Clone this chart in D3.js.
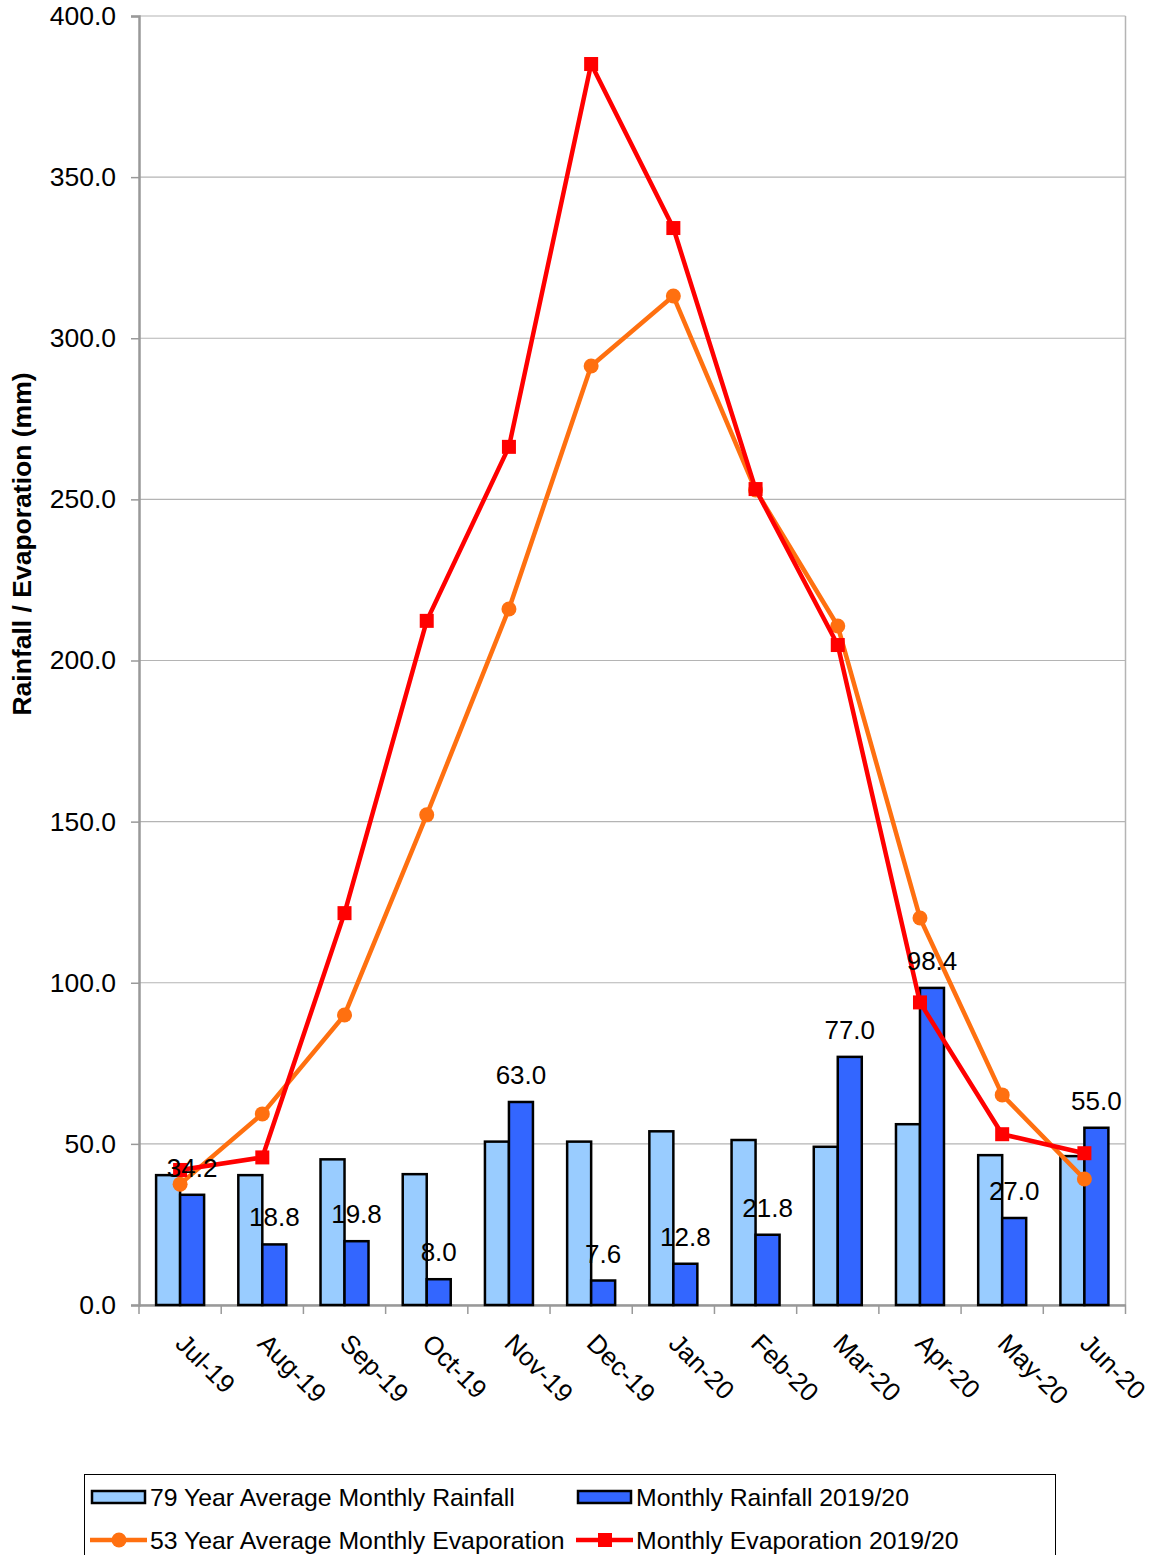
<!DOCTYPE html>
<html><head><meta charset="utf-8">
<script src="https://cdn.jsdelivr.net/npm/d3@7"></script>
<style>body{margin:0;background:#fff}text{font-family:"Liberation Sans",Arial,sans-serif}</style>
</head><body><svg id="c" width="1153" height="1555"></svg>
<script>
const months = ["Jul-19","Aug-19","Sep-19","Oct-19","Nov-19","Dec-19","Jan-20","Feb-20","Mar-20","Apr-20","May-20","Jun-20"];
const avgRain = [40.3, 40.3, 45.2, 40.6, 50.7, 50.7, 53.9, 51.2, 49.1, 56.1, 46.5, 46.2];
const rain = [34.2, 18.8, 19.8, 8.0, 63.0, 7.6, 12.8, 21.8, 77.0, 98.4, 27.0, 55.0];
const avgEvap = [37.5, 59.3, 90.0, 152.1, 216.0, 291.4, 313.1, 252.9, 210.7, 120.1, 65.2, 39.1];
const evap = [41.9, 45.8, 121.6, 212.3, 266.3, 385.1, 334.2, 253.2, 204.8, 93.9, 53.0, 47.1];
const yTicks = [0, 50, 100, 150, 200, 250, 300, 350, 400];
const seriesNames = ["79 Year Average Monthly Rainfall", "Monthly Rainfall 2019/20", "53 Year Average Monthly Evaporation", "Monthly Evaporation 2019/20"];
const yTitle = "Rainfall / Evaporation (mm)";

const svg = d3.select("#c");
const L = 139, R = 1125.5, T = 16, B = 1305;
const x = d3.scaleBand().domain(months).range([L, R]).padding(0);
const y = d3.scaleLinear().domain([0, 400]).range([B, T]);
const cx = m => x(m) + x.bandwidth() / 2;
const bw = 24;

// gridlines
svg.append("g").selectAll("line").data(yTicks).join("line")
  .attr("x1", L).attr("x2", R).attr("y1", d => y(d)).attr("y2", d => y(d))
  .attr("stroke", "#b4b4b4").attr("stroke-width", 1.2);
// right border
svg.append("line").attr("x1", R).attr("x2", R).attr("y1", T).attr("y2", B).attr("stroke", "#b4b4b4").attr("stroke-width", 1.5);

// y axis
const ya = svg.append("g").attr("transform", `translate(${L},0)`)
  .call(d3.axisLeft(y).tickValues(yTicks).tickFormat(d3.format(".1f")).tickSize(8).tickPadding(15));
ya.select(".domain").attr("stroke", "#999").attr("stroke-width", 2.5);
ya.selectAll(".tick line").attr("stroke", "#999").attr("stroke-width", 1.5);
ya.selectAll(".tick text").attr("font-size", 26.5).attr("fill", "#000").attr("font-family", "Liberation Sans, Arial, sans-serif");

// x axis
const xa = svg.append("g").attr("transform", `translate(0,${B})`)
  .call(d3.axisBottom(x).tickSize(0).tickFormat(""));
xa.select(".domain").attr("stroke", "#999").attr("stroke-width", 2.5);
const bounds = months.map(m => x(m)).concat([R]);
svg.append("g").selectAll("line").data(bounds).join("line")
  .attr("x1", d => d).attr("x2", d => d).attr("y1", B).attr("y2", B + 9)
  .attr("stroke", "#999").attr("stroke-width", 1.5);
svg.append("g").selectAll("text").data(months).join("text")
  .attr("transform", d => `translate(${cx(d) - 6},${B + 40}) rotate(45)`)
  .attr("font-size", 26).attr("fill", "#000").text(d => d);

// bars
svg.append("g").selectAll("rect").data(months).join("rect")
  .attr("x", d => cx(d) - bw).attr("width", bw)
  .attr("y", (d, i) => y(avgRain[i])).attr("height", (d, i) => B - y(avgRain[i]))
  .attr("fill", "#99ccff").attr("stroke", "#000").attr("stroke-width", 2.5);
svg.append("g").selectAll("rect").data(months).join("rect")
  .attr("x", d => cx(d)).attr("width", bw)
  .attr("y", (d, i) => y(rain[i])).attr("height", (d, i) => B - y(rain[i]))
  .attr("fill", "#3366ff").attr("stroke", "#000").attr("stroke-width", 2.5);

// lines
const line = d3.line().x(d => cx(d[0])).y(d => y(d[1]));
const orange = "#ff7010", red = "#ff0000";
svg.append("path").datum(months.map((m, i) => [m, avgEvap[i]])).attr("d", line)
  .attr("fill", "none").attr("stroke", orange).attr("stroke-width", 4.5).attr("stroke-linejoin", "round");
svg.append("g").selectAll("circle").data(months).join("circle")
  .attr("cx", d => cx(d)).attr("cy", (d, i) => y(avgEvap[i])).attr("r", 7.5).attr("fill", orange);
svg.append("path").datum(months.map((m, i) => [m, evap[i]])).attr("d", line)
  .attr("fill", "none").attr("stroke", red).attr("stroke-width", 4.5).attr("stroke-linejoin", "round");
svg.append("g").selectAll("rect").data(months).join("rect")
  .attr("x", d => cx(d) - 7).attr("y", (d, i) => y(evap[i]) - 7).attr("width", 14).attr("height", 14).attr("fill", red);

// data labels
svg.append("g").selectAll("text").data(months).join("text")
  .attr("x", d => cx(d) + bw / 2).attr("y", (d, i) => y(rain[i]) - 18)
  .attr("text-anchor", "middle").attr("font-size", 26).attr("fill", "#000")
  .text((d, i) => d3.format(".1f")(rain[i]));

// y title
svg.append("text").attr("transform", "translate(31,544) rotate(-90)")
  .attr("text-anchor", "middle").attr("font-size", 26.5).attr("font-weight", "bold").text(yTitle);

// legend
const lg = svg.append("g");
lg.append("rect").attr("x", 84.5).attr("y", 1474.5).attr("width", 971).attr("height", 100)
  .attr("fill", "#fff").attr("stroke", "#000").attr("stroke-width", 1);
const items = [
  {type: "bar", fill: "#99ccff", x: 92, y: 1497},
  {type: "bar", fill: "#3366ff", x: 578, y: 1497},
  {type: "circle", fill: orange, x: 92, y: 1540},
  {type: "square", fill: red, x: 578, y: 1540}
];
items.forEach((it, i) => {
  if (it.type === "bar") {
    lg.append("rect").attr("x", it.x).attr("y", it.y - 6).attr("width", 53).attr("height", 12)
      .attr("fill", it.fill).attr("stroke", "#000").attr("stroke-width", 2.5);
  } else {
    lg.append("line").attr("x1", it.x - 2).attr("x2", it.x + 55).attr("y1", it.y).attr("y2", it.y)
      .attr("stroke", it.fill).attr("stroke-width", 4.5);
    if (it.type === "circle") lg.append("circle").attr("cx", it.x + 27).attr("cy", it.y).attr("r", 7.5).attr("fill", it.fill);
    else lg.append("rect").attr("x", it.x + 20).attr("y", it.y - 7).attr("width", 14).attr("height", 14).attr("fill", it.fill);
  }
  lg.append("text").attr("x", it.x + 58).attr("y", it.y + 9).attr("font-size", 24.8).attr("fill", "#000").text(seriesNames[i]);
});
</script></body></html>
